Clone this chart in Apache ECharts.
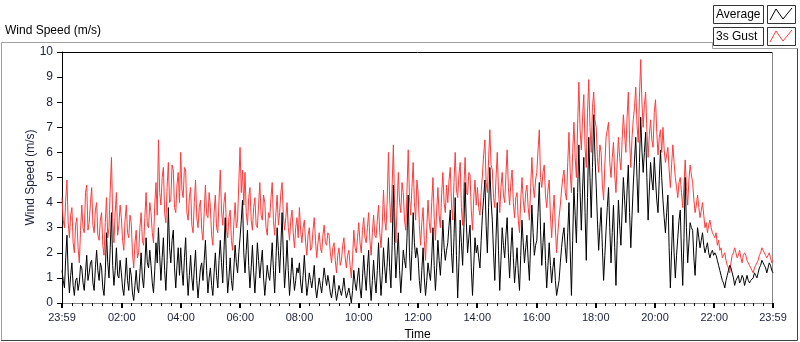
<!DOCTYPE html>
<html>
<head>
<meta charset="utf-8">
<script src="https://cdn.jsdelivr.net/npm/echarts@6/dist/echarts.min.js"></script>
<style>
  html, body { margin: 0; padding: 0; background: #fff; }
  #chart { width: 800px; height: 342px; }
</style>
</head>
<body>
<div id="chart"></div>
<script>
// 2.5-minute samples, one row per hour, 23:59 -> 23:59
const gust = [
  4.2, 3.3, 3.0, 4.1, 4.9, 3.2, 2.6, 3.5, 3.8, 2.4, 2.0, 3.1, 3.4, 2.2, 1.6, 2.9, 3.9, 3.0, 2.8, 4.4, 4.7, 2.9, 3.2, 4.0,
  4.6, 3.1, 2.8, 3.7, 4.0, 2.7, 2.5, 3.3, 3.6, 2.3, 1.9, 3.2, 4.2, 2.6, 3.0, 4.5, 5.8, 3.4, 2.4, 3.6, 4.4, 2.7, 3.1, 3.9,
  3.4, 2.5, 2.1, 3.3, 3.9, 2.8, 2.6, 3.5, 3.2, 2.0, 1.4, 2.4, 2.9, 1.8, 2.0, 3.0, 3.6, 2.5, 2.3, 3.4, 4.4, 3.1, 3.0, 4.0,
  3.6, 2.8, 2.4, 3.9, 4.8, 3.5, 6.5, 4.4, 3.9, 5.0, 5.4, 3.6, 3.2, 4.6, 5.6, 4.0, 4.1, 5.5, 5.3, 3.8, 3.6, 4.7, 5.2, 4.0,
  6.0, 4.5, 4.2, 5.4, 5.3, 3.6, 3.3, 4.2, 4.6, 3.1, 2.8, 4.0, 4.9, 3.4, 3.0, 3.8, 4.1, 2.9, 2.5, 3.6, 4.7, 3.5, 3.4, 4.4,
  3.8, 2.7, 2.3, 3.6, 4.3, 3.0, 2.8, 4.1, 5.3, 3.7, 3.1, 4.0, 4.4, 3.0, 2.6, 3.4, 3.7, 2.5, 2.1, 3.2, 4.0, 3.0, 3.3, 4.8,
  6.2, 4.4, 5.3, 3.9, 5.2, 3.6, 3.1, 4.2, 4.6, 3.3, 2.9, 3.8, 4.2, 3.1, 3.0, 3.9, 4.8, 3.5, 3.3, 4.3, 4.0, 3.0, 2.7, 3.6,
  3.4, 4.2, 4.8, 3.3, 2.7, 3.6, 4.3, 3.1, 3.6, 4.4, 4.8, 3.5, 2.9, 3.4, 4.0, 3.0, 2.5, 3.3, 3.7, 2.8, 2.2, 3.0, 3.4, 2.6,
  3.8, 2.9, 2.4, 3.0, 3.3, 2.4, 1.9, 2.7, 3.0, 2.1, 2.2, 2.9, 3.4, 2.5, 1.8, 2.4, 2.8, 2.2, 2.0, 2.7, 3.1, 2.4, 2.3, 2.8,
  2.7, 2.0, 1.6, 2.2, 2.4, 1.7, 1.2, 1.9, 2.2, 1.5, 1.7, 2.3, 2.6, 1.8, 1.4, 1.9, 2.1, 1.5, 1.0, 1.8, 2.9, 2.2, 2.0, 2.6,
  3.2, 2.4, 2.0, 2.9, 3.4, 2.6, 2.4, 3.0, 3.6, 2.5, 1.9, 2.8, 3.5, 2.7, 2.6, 3.3, 3.9, 2.8, 2.2, 3.1, 4.5, 3.3, 2.9, 4.1,
  6.0, 4.1, 3.2, 4.7, 6.3, 3.8, 2.4, 3.9, 5.2, 4.0, 3.6, 4.8, 4.4, 3.3, 2.9, 4.5, 6.1, 4.2, 3.5, 4.6, 5.6, 4.0, 3.3, 4.9,
  4.4, 3.1, 2.3, 3.2, 3.8, 2.5, 1.7, 3.0, 4.1, 3.2, 2.8, 4.0, 5.0, 3.4, 2.5, 3.7, 4.6, 3.5, 3.0, 4.3, 5.2, 4.0, 3.6, 4.7,
  4.0, 4.9, 5.4, 3.9, 3.3, 4.8, 6.0, 4.5, 4.2, 5.1, 5.6, 3.8, 3.1, 4.6, 5.8, 4.4, 4.3, 5.2, 5.1, 3.7, 2.9, 4.2, 4.9, 3.9,
  4.6, 3.8, 3.5, 4.4, 5.1, 5.9, 6.5, 4.8, 4.4, 5.7, 6.9, 5.5, 5.3, 4.2, 3.8, 5.0, 6.0, 4.5, 3.6, 4.6, 5.2, 4.3, 4.0, 5.1,
  6.1, 4.6, 3.9, 4.8, 5.3, 4.0, 3.4, 4.2, 4.4, 3.3, 2.8, 4.1, 5.0, 4.1, 3.6, 4.4, 4.7, 3.8, 3.3, 4.6, 5.8, 4.7, 4.2, 4.9,
  5.2, 6.1, 6.9, 5.0, 4.6, 5.2, 5.5, 4.3, 3.8, 4.5, 4.9, 3.5, 2.6, 3.6, 4.3, 3.0, 2.0, 2.8, 3.4, 3.9, 4.5, 5.0, 5.3, 4.4,
  4.1, 5.6, 6.8, 5.2, 4.4, 6.0, 7.2, 5.8, 5.0, 7.1, 8.8, 6.9, 6.1, 7.4, 8.3, 6.2, 5.4, 7.6, 8.9, 7.0, 6.0, 7.8, 8.4, 7.3,
  7.0, 5.8, 5.2, 6.3, 6.0, 4.7, 4.1, 5.5, 6.6, 6.9, 7.2, 5.6, 5.0, 5.8, 6.4, 5.1, 4.4, 5.6, 6.6, 5.8, 5.3, 6.5, 7.5, 6.7,
  6.0, 7.4, 8.4, 6.5, 5.4, 6.6, 7.3, 7.8, 8.6, 7.1, 6.4, 8.2, 9.7, 8.0, 7.0, 7.9, 8.4, 6.9, 5.8, 6.7, 7.3, 6.5, 6.2, 7.6,
  8.1, 6.8, 5.9, 6.6, 6.9, 6.0, 7.0, 6.1, 5.6, 5.9, 6.2, 5.3, 4.6, 5.5, 6.3, 5.6, 5.0, 4.6, 4.2, 4.8, 5.0, 4.4, 3.8, 4.7,
  5.7, 4.6, 3.9, 4.9, 5.5, 5.1, 4.8, 4.1, 3.6, 3.9, 4.3, 3.8, 3.4, 3.7, 4.0, 3.5, 3.0, 3.2, 2.8, 3.1, 3.3, 3.0, 2.8, 2.7,
  2.6, 2.8, 2.3, 2.5, 2.1, 2.2, 1.8, 1.9, 2.0, 1.7, 1.5, 1.4, 1.2, 1.6, 1.9, 2.0, 2.2, 2.0, 1.8, 1.9, 2.1, 1.8, 1.6, 1.9,
  2.0, 1.9, 1.7, 1.6, 1.5, 1.4, 1.3, 1.2, 1.4, 1.5, 1.6, 1.7, 1.9, 2.0, 2.2, 2.1, 2.1, 1.9, 1.8, 1.9, 2.0, 1.8, 1.6, 1.7
];

const average = [
  1.3, 0.9, 0.6, 1.8, 2.7, 1.2, 0.4, 1.1, 1.6, 0.7, 0.3, 0.9, 1.0, 0.5, 0.8, 1.5, 1.4, 0.8, 0.5, 1.2, 1.9, 0.9, 1.2, 1.6,
  1.7, 0.8, 0.5, 1.4, 2.1, 1.3, 0.9, 1.6, 1.4, 0.6, 0.3, 1.2, 2.8, 1.6, 1.0, 2.2, 3.6, 1.5, 0.7, 1.3, 2.2, 1.1, 1.0, 1.7,
  1.2, 0.6, 0.3, 1.0, 1.8, 0.9, 0.5, 1.4, 1.1, 0.4, 0.1, 0.7, 1.3, 0.6, 0.4, 1.2, 2.0, 1.0, 0.6, 1.5, 2.6, 1.6, 1.4, 2.1,
  1.5, 0.8, 0.4, 1.3, 2.4, 1.6, 3.0, 1.9, 0.9, 1.8, 2.6, 1.3, 0.5, 1.7, 3.8, 2.2, 1.6, 2.5, 2.9, 1.4, 0.6, 1.5, 2.2, 1.1,
  2.2, 1.3, 0.7, 1.8, 2.6, 1.2, 0.3, 1.1, 1.9, 1.0, 0.5, 1.4, 2.1, 0.9, 0.2, 0.8, 1.4, 1.6, 0.9, 1.7, 2.5, 1.3, 0.4, 1.0,
  1.4, 0.7, 0.3, 1.2, 2.0, 1.1, 0.6, 1.7, 2.5, 1.6, 0.8, 2.1, 3.4, 1.5, 0.4, 1.0, 1.8, 0.9, 0.5, 1.4, 2.3, 1.6, 1.2, 2.0,
  2.6, 3.3, 4.1, 2.0, 1.2, 2.1, 2.9, 1.5, 0.6, 1.4, 2.3, 1.2, 0.4, 1.3, 2.4, 1.7, 1.0, 1.6, 2.1, 1.0, 0.3, 0.9, 1.5, 1.1,
  0.9, 1.6, 2.4, 1.3, 0.4, 1.7, 3.0, 2.1, 1.2, 2.3, 3.6, 1.9, 0.6, 1.4, 2.5, 1.3, 0.3, 1.0, 1.8, 1.1, 0.5, 0.9, 1.4, 1.2,
  1.6, 0.8, 0.4, 1.1, 1.9, 1.0, 0.3, 0.7, 1.2, 0.9, 0.6, 1.0, 1.5, 0.6, 0.2, 0.6, 1.0, 0.7, 0.4, 0.9, 1.4, 1.0, 0.7, 1.1,
  0.8, 0.4, 0.2, 0.6, 1.1, 0.5, 0.1, 0.4, 0.7, 0.5, 0.3, 0.6, 1.0, 0.5, 0.2, 0.4, 0.6, 0.3, 0.0, 0.5, 1.3, 0.8, 0.5, 1.0,
  1.4, 0.6, 0.2, 1.0, 1.9, 1.1, 0.5, 1.4, 2.1, 0.8, 0.1, 0.9, 1.7, 0.9, 0.4, 1.3, 2.4, 1.2, 0.3, 1.1, 2.2, 1.4, 0.8, 1.6,
  2.6, 1.4, 0.6, 2.3, 4.7, 2.4, 1.0, 1.9, 2.8, 1.3, 0.4, 1.2, 2.1, 1.7, 1.4, 2.6, 4.3, 2.0, 0.9, 2.1, 3.6, 2.4, 1.8, 2.2,
  1.8, 0.9, 0.4, 1.3, 2.2, 1.0, 0.3, 0.9, 1.6, 1.2, 0.9, 1.8, 3.0, 1.5, 0.5, 1.4, 2.5, 1.7, 1.1, 2.0, 3.3, 2.2, 1.7, 2.1,
  2.4, 3.1, 3.7, 2.0, 1.2, 2.6, 4.2, 1.9, 0.2, 1.6, 3.3, 2.4, 1.5, 3.0, 4.8, 3.2, 2.0, 2.6, 3.1, 1.4, 0.3, 1.5, 2.6, 2.0,
  2.3, 1.8, 1.4, 2.5, 3.5, 4.2, 4.9, 3.1, 2.0, 3.8, 5.4, 4.1, 3.3, 2.0, 0.9, 2.6, 4.0, 2.1, 0.5, 1.7, 3.0, 2.3, 1.8, 2.7,
  3.4, 2.0, 1.0, 2.1, 3.0, 1.8, 0.8, 1.5, 2.2, 1.2, 0.5, 1.9, 3.3, 2.4, 1.6, 2.2, 2.7, 1.7, 0.9, 2.4, 3.9, 2.8, 1.9, 2.3,
  2.5, 3.6, 4.8, 2.9, 1.5, 2.4, 3.2, 1.7, 0.6, 1.5, 2.4, 1.5, 0.8, 1.4, 1.8, 0.9, 0.3, 0.6, 0.9, 1.6, 2.2, 2.7, 3.0, 2.2,
  1.6, 2.8, 4.0, 2.1, 0.3, 2.5, 4.6, 3.5, 2.4, 4.4, 6.3, 4.4, 2.9, 4.5, 5.8, 3.6, 1.7, 4.2, 6.6, 5.0, 3.4, 5.4, 7.5, 5.9,
  4.7, 3.3, 2.1, 3.0, 3.8, 2.2, 0.9, 1.9, 2.9, 3.8, 4.6, 3.0, 1.6, 2.8, 3.9, 2.2, 0.7, 2.5, 4.1, 3.1, 2.3, 3.7, 5.0, 4.1,
  3.2, 4.5, 5.5, 3.6, 2.2, 3.5, 4.7, 5.7, 6.6, 5.0, 3.6, 5.6, 7.4, 6.1, 5.2, 6.0, 6.8, 5.0, 3.3, 4.5, 5.6, 4.9, 4.5, 5.8,
  4.9, 4.1, 3.6, 4.9, 6.1, 5.0, 4.1, 3.4, 2.8, 3.6, 4.3, 2.2, 0.6, 2.1, 3.5, 2.0, 1.0, 1.9, 2.6, 3.3, 3.7, 2.0, 0.7, 2.6,
  5.0, 3.0, 1.6, 2.4, 3.2, 3.0, 2.9, 1.8, 1.1, 2.2, 3.0, 2.6, 2.2, 2.5, 2.8, 2.3, 2.0, 2.2, 2.4, 2.0, 1.8, 2.0, 2.1, 1.9,
  2.0, 1.9, 1.7, 1.5, 1.3, 1.1, 0.9, 0.8, 0.6, 0.9, 1.1, 1.3, 1.5, 1.4, 1.2, 1.0, 0.7, 0.9, 1.0, 1.1, 0.8, 0.9, 1.1, 1.0,
  0.7, 0.9, 1.1, 0.9, 0.8, 0.9, 0.9, 1.0, 1.2, 1.1, 1.0, 1.2, 1.4, 1.5, 1.7, 1.6, 1.5, 1.4, 1.2, 1.4, 1.6, 1.5, 1.3, 1.2
];

// minutes after 23:59 where the labelled ticks sit
const tickMinutes = [0, 121, 241, 361, 481, 601, 721, 841, 961, 1081, 1201, 1321, 1440];
const tickLabels = ["23:59", "02:00", "04:00", "06:00", "08:00", "10:00", "12:00",
  "14:00", "16:00", "18:00", "20:00", "22:00", "23:59"];
const yTicks = [0, 1, 2, 3, 4, 5, 6, 7, 8, 9, 10];

const SPAN = 1440;
const FONT = "Liberation Sans";
const TEXT = "#1a1f3a";

const toPairs = arr => arr.map((v, i) => [i * SPAN / (arr.length - 1), v]);

// minor ticks every 20 clock minutes
const minorMinutes = [];
for (let t = 21; t < SPAN; t += 20) {
  if (!tickMinutes.includes(t)) minorMinutes.push(t);
}

const chart = echarts.init(document.getElementById("chart"), null, { renderer: "canvas" });

const legendBox = (y, label, color) => [
  {
    type: "rect",
    shape: { x: 713.5, y: y + 0.5, width: 50, height: 18 },
    style: { fill: "#fff", stroke: "#333", lineWidth: 1 }
  },
  {
    type: "text",
    x: 716, y: y + 10,
    style: { text: label, fill: "#000", font: `12px "${FONT}"`, verticalAlign: "middle" }
  },
  {
    type: "rect",
    shape: { x: 767.5, y: y + 0.5, width: 28, height: 18 },
    style: { fill: "#fff", stroke: "#333", lineWidth: 1 }
  },
  {
    type: "polyline",
    shape: { points: [[770, y + 15], [776, y + 4], [783, y + 14], [792, y + 3]] },
    style: { stroke: color, lineWidth: 1, fill: null }
  }
];

chart.setOption({
  animation: false,
  backgroundColor: "#fff",
  textStyle: { fontFamily: FONT },
  grid: { left: 62, right: 27, top: 52, bottom: 39, containLabel: false, outerBoundsMode: "none" },
  xAxis: [
    {
      type: "value",
      min: 0,
      max: SPAN,
      name: "Time",
      nameLocation: "middle",
      nameGap: 26,
      nameMoveOverlap: false,
      nameTextStyle: { color: "#000", fontSize: 12, fontFamily: FONT },
      axisLine: { show: true, lineStyle: { color: "#888", width: 1 } },
      axisTick: {
        show: true,
        customValues: tickMinutes,
        length: 5,
        lineStyle: { color: "#000", width: 2 }
      },
      axisLabel: {
        customValues: tickMinutes,
        margin: 9,
        color: TEXT,
        fontSize: 11,
        fontFamily: FONT,
        formatter: v => tickLabels[tickMinutes.indexOf(Math.round(v))] || ""
      },
      splitLine: { show: false }
    },
    {
      type: "value",
      min: 0,
      max: SPAN,
      position: "bottom",
      axisLine: { show: false },
      axisTick: {
        show: true,
        customValues: minorMinutes,
        length: 3,
        lineStyle: { color: "#000", width: 1 }
      },
      axisLabel: { show: false },
      splitLine: { show: false }
    }
  ],
  yAxis: {
    type: "value",
    min: 0,
    max: 10,
    interval: 1,
    name: "Wind Speed (m/s)",
    nameLocation: "middle",
    nameGap: 25,
    nameMoveOverlap: false,
    nameTextStyle: { color: TEXT, fontSize: 12, fontFamily: FONT },
    axisLine: { show: true, lineStyle: { color: "#000", width: 1 } },
    axisTick: { show: true, length: 5, lineStyle: { color: "#000" } },
    axisLabel: {
      margin: 9,
      color: TEXT,
      fontSize: 12,
      fontFamily: FONT,
      formatter: v => (yTicks.includes(v) ? String(v) : "")
    },
    splitLine: { show: false }
  },
  series: [
    {
      name: "3s Gust",
      type: "line",
      data: toPairs(gust),
      showSymbol: false,
      lineStyle: { color: "#ff3b3b", width: 1 },
      z: 2
    },
    {
      name: "Average",
      type: "line",
      data: toPairs(average),
      showSymbol: false,
      lineStyle: { color: "#000", width: 1 },
      z: 3
    }
  ],
  graphic: [
    // outer frame
    { type: "polyline", shape: { points: [[1.5, 340], [1.5, 42.5], [712.5, 42.5], [712.5, 48.5], [797.5, 48.5]] },
      style: { stroke: "#a0a0a0", lineWidth: 1, fill: null } },
    { type: "polyline", shape: { points: [[1, 340.5], [797.5, 340.5], [797.5, 48.5]] },
      style: { stroke: "#404040", lineWidth: 1, fill: null } },
    // plot box top and right edges
    { type: "line", shape: { x1: 62, y1: 52.5, x2: 773, y2: 52.5 }, style: { stroke: "#000", lineWidth: 1 } },
    { type: "line", shape: { x1: 772.5, y1: 52, x2: 772.5, y2: 303 }, style: { stroke: "#888", lineWidth: 1 } },
    {
      type: "text",
      x: 5, y: 31,
      style: { text: "Wind Speed (m/s)", fill: "#000", font: `12px "${FONT}"`, verticalAlign: "middle" }
    },
    ...legendBox(5, "Average", "#000"),
    ...legendBox(27, "3s Gust", "#ff3b3b")
  ]
});
</script>
</body>
</html>
